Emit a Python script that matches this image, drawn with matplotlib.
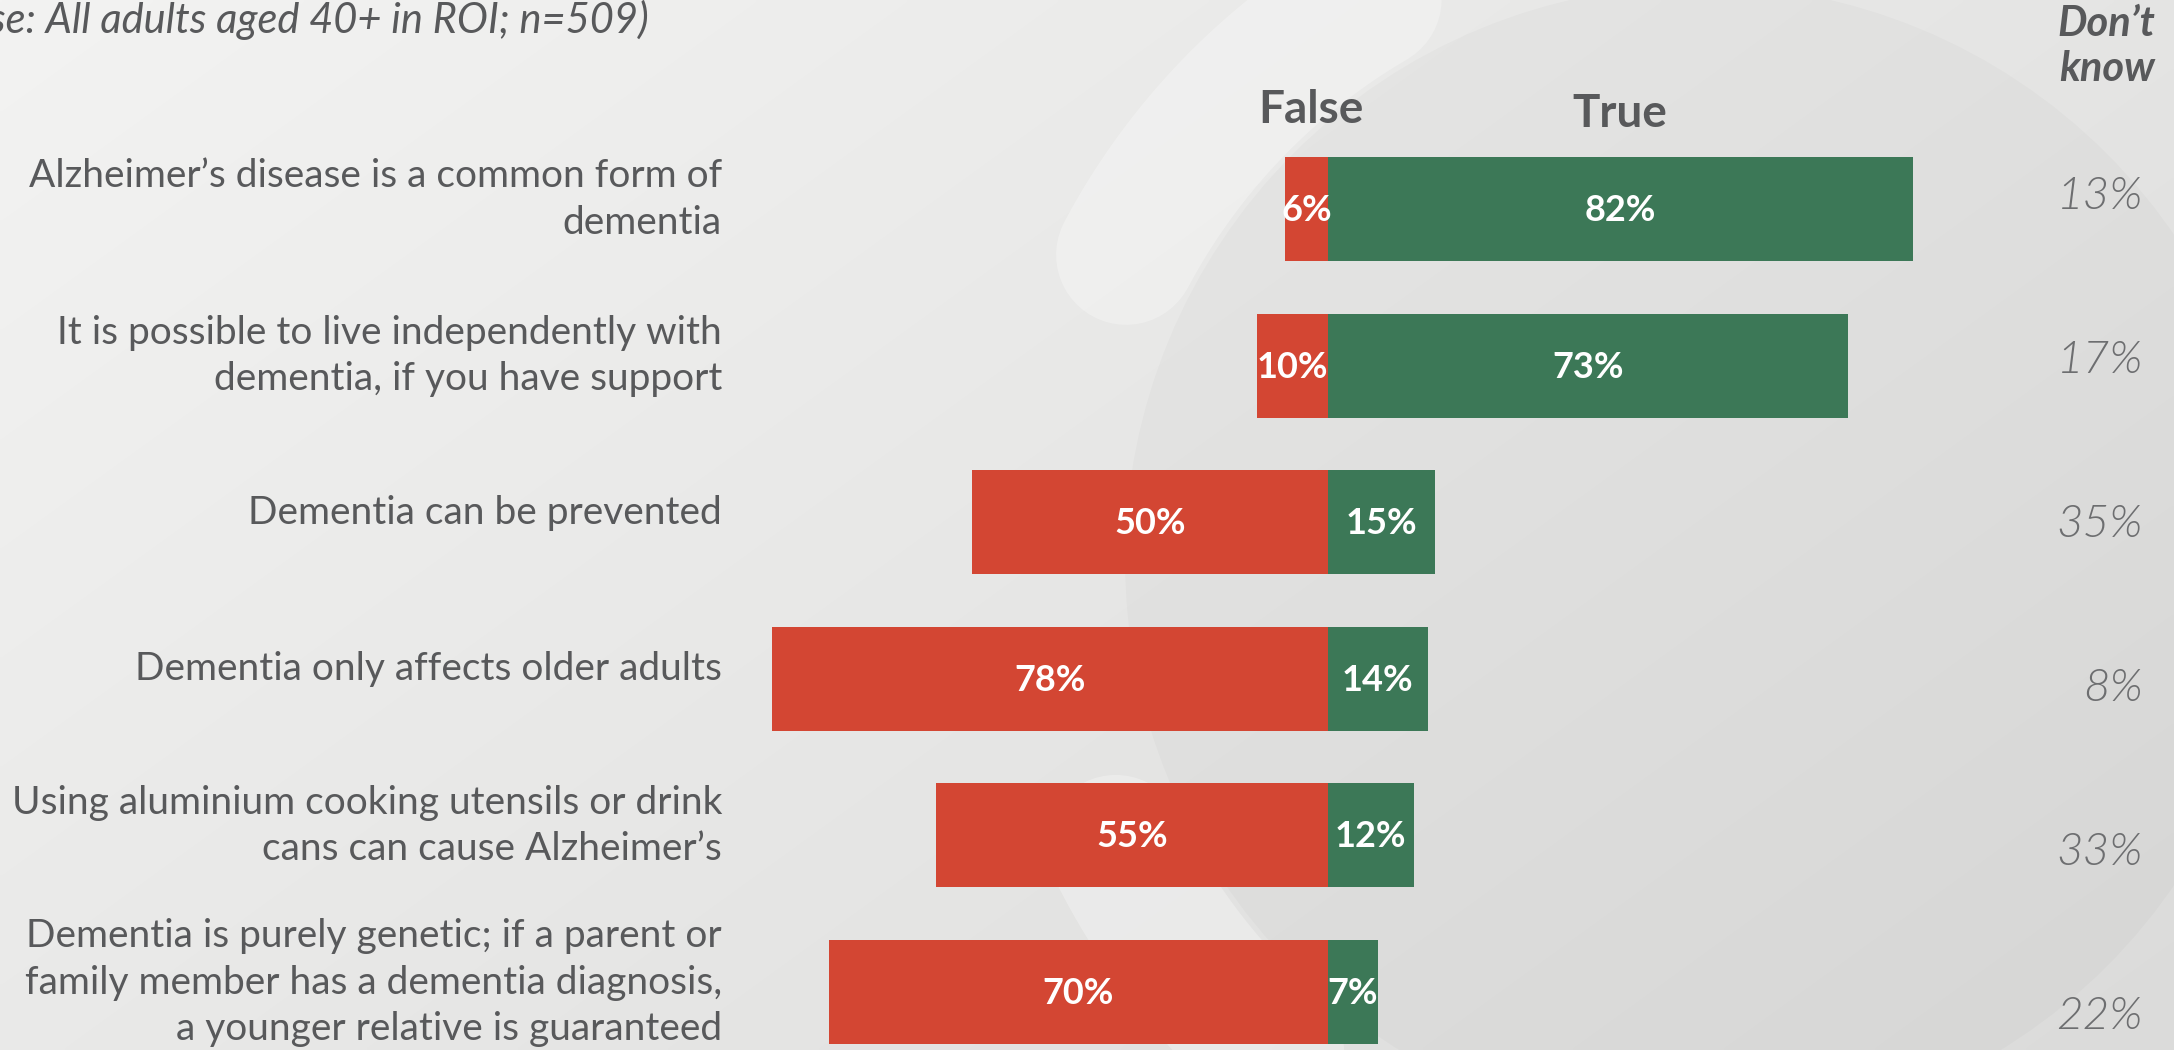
import numpy as np
import matplotlib
matplotlib.use("Agg")
import matplotlib.pyplot as plt
from matplotlib.transforms import blended_transform_factory

# ---------------- data ----------------
statements = [
    "Alzheimer\u2019s disease is a common form of\ndementia",
    "It is possible to live independently with\ndementia, if you have support",
    "Dementia can be prevented",
    "Dementia only affects older adults",
    "Using aluminium cooking utensils or drink\ncans can cause Alzheimer\u2019s",
    "Dementia is purely genetic; if a parent or\nfamily member has a dementia diagnosis,\na younger relative is guaranteed",
]
false_pct = [6, 10, 50, 78, 55, 70]
true_pct = [82, 73, 15, 14, 12, 7]
dont_know_pct = [13, 17, 35, 8, 33, 22]
subtitle = "(Base: All adults aged 40+ in ROI; n=509)"

# ---------------- style ----------------
W, H = 2174, 1050
RED = "#D34633"
GREEN = "#3C7857"
TXT = "#58595B"
FONT = ["Lato", "DejaVu Sans"]
plt.rcParams["font.family"] = FONT

fig = plt.figure(figsize=(W / 100, H / 100), dpi=100)

# ---------------- background ----------------
bg = fig.add_axes([0, 0, 1, 1], zorder=0)
bg.set_xlim(0, W)
bg.set_ylim(H, 0)
bg.axis("off")
yy, xx = np.mgrid[0:H:4, 0:W:4]
t = (xx / W * 0.6 + yy / H * 0.4)
top = np.array([243, 243, 242]) / 255
bot = np.array([219, 219, 218]) / 255
grad = top[None, None, :] * (1 - t[..., None]) + bot[None, None, :] * t[..., None]
bg.imshow(grad, extent=(0, W, H, 0), aspect="auto", interpolation="bilinear")

cx, cy, r = 1700, 560, 650
disk = plt.Circle((cx, cy), r - 75, color="black", alpha=0.02, lw=0)
bg.add_patch(disk)
for a0, a1 in [(152, 60), (206, 290)]:
    th = np.radians(np.linspace(a0, a1, 200))
    bg.plot(cx + r * np.cos(th), cy - r * np.sin(th), color="white",
            alpha=0.28, lw=140 * 0.72, solid_capstyle="round")

# ---------------- chart ----------------
ax = fig.add_axes([0, 0, 1, 1], zorder=1)
ax.patch.set_alpha(0)
px_per = 7.13
zero_px = 1328
ax.set_xlim(-zero_px / px_per, (W - zero_px) / px_per)
step = 156.6
first = 209
ax.set_ylim((H - first) / step, -first / step)
ax.axis("off")

y = np.arange(len(statements))
bh = 104 / step
ax.barh(y, [-v for v in false_pct], height=bh, color=RED, lw=0)
ax.barh(y, true_pct, height=bh, color=GREEN, lw=0)

for i in range(len(y)):
    ax.text(-false_pct[i] / 2, y[i] + 0.01, f"{false_pct[i]}%", ha="center", va="center",
            color="white", fontsize=26, fontweight="bold")
    ax.text(true_pct[i] / 2, y[i] + 0.01, f"{true_pct[i]}%", ha="center", va="center",
            color="white", fontsize=26, fontweight="bold")

tr = blended_transform_factory(fig.transFigure, ax.transData)
for i, s in enumerate(statements):
    ax.text(722 / W, y[i] - 0.06, s, transform=tr, ha="right", va="center",
            color=TXT, fontsize=28, fontweight="normal", linespacing=1.36)

for i, v in enumerate(dont_know_pct):
    ax.text(2143 / W, i * 1.047 - 0.077, f"{v}%", transform=tr, ha="right",
            va="center", color="#6D6E70", fontsize=33, fontweight=300,
            style="italic")

# headers (figure pixel coords)
def fx(px):
    return px / W

def fy(py):
    return 1 - py / H

fig.text(fx(1311), fy(123), "False", ha="center", va="baseline", color=TXT,
         fontsize=33, fontweight="bold", zorder=3)
fig.text(fx(1620), fy(127), "True", ha="center", va="baseline", color=TXT,
         fontsize=33, fontweight="bold", zorder=3)
fig.text(fx(2155), fy(36), "Don\u2019t", ha="right", va="baseline", color=TXT,
         fontsize=30, fontweight="bold", style="italic", zorder=3)
fig.text(fx(2155), fy(81), "know", ha="right", va="baseline", color=TXT,
         fontsize=30, fontweight="bold", style="italic", zorder=3)
fig.text(fx(649), fy(33), subtitle, ha="right", va="baseline", color=TXT,
         fontsize=30, fontweight="normal", style="italic", zorder=3)

fig.savefig("out.png", dpi=100)
